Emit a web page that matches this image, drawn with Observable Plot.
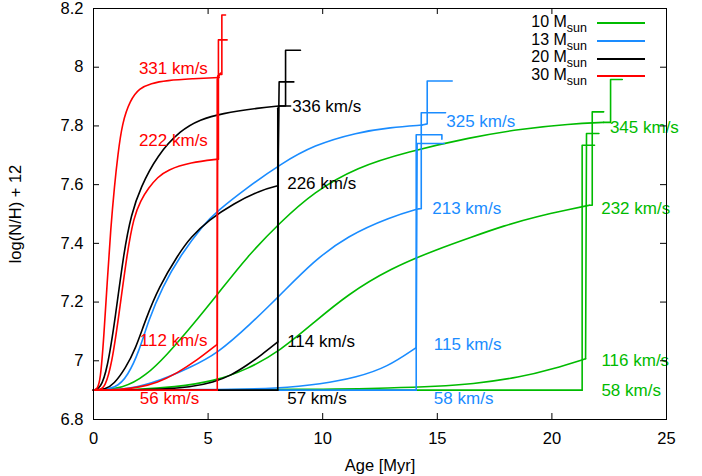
<!DOCTYPE html>
<html><head><meta charset="utf-8">
<script src="https://cdn.jsdelivr.net/npm/d3@7"></script>
<script src="https://cdn.jsdelivr.net/npm/@observablehq/plot@0.6"></script>
<style>
body{margin:0;background:#fff;}
#wrap{position:relative;width:702px;height:476px;font-family:"Liberation Sans",Arial,Helvetica,sans-serif;}
#wrap svg{display:block;}
</style>
</head><body>
<div id="wrap"></div>
<script>
// ---- data ----
const masses = ["10", "13", "20", "30"];
const massColors = ["#00bb00", "#1a8cff", "#000000", "#ff0000"];
const xTicks = [0, 5, 10, 15, 20, 25];
const yTicks = [6.8, 7.0, 7.2, 7.4, 7.6, 7.8, 8.0, 8.2];

// each track: rotation velocity, main-sequence curve, post-MS staircase, label anchor [t, logNH]
const tracks30 = [
  {v: 331, ms: [[0,6.9],[0.15,6.902],[0.3,6.93],[0.45,7.08],[0.6,7.27],[0.75,7.45],[0.92,7.6],[1.06,7.7],[1.25,7.81],[1.6,7.888],[2.0,7.928],[2.5,7.945],[3.2,7.955],[4.3,7.961],[5.45,7.965]],
   post: [[5.45,7.965],[5.5,7.975],[5.6,7.975],[5.6,8.178],[5.76,8.178]], label: [1.98, 7.995]},
  {v: 222, ms: [[0,6.9],[0.3,6.902],[0.5,6.91],[0.8,6.99],[1.1,7.15],[1.47,7.37],[1.76,7.49],[2.05,7.545],[2.41,7.59],[2.8,7.625],[3.21,7.65],[4.23,7.676],[5.45,7.687]],
   post: [[5.45,7.687],[5.45,8.093],[5.83,8.093]], label: [1.98, 7.75]},
  {v: 112, ms: [[0,6.9],[1.2,6.902],[2.0,6.91],[2.78,6.925],[3.65,6.958],[4.52,7.002],[5.4,7.056]],
   post: [[5.4,7.056],[5.42,7.97],[5.55,7.98]], label: [2.02, 7.068]},
  {v: 56, ms: [[0,6.9],[5.4,6.9]],
   post: [[5.4,6.9],[5.4,7.96],[5.48,7.965]], label: [2.02, 6.87]}
];
const tracks20 = [
  {v: 336, ms: [[0,6.9],[0.3,6.905],[0.6,6.97],[0.96,7.15],[1.32,7.37],[1.65,7.5],[2.05,7.59],[2.78,7.7],[3.8,7.786],[4.67,7.822],[5.54,7.842],[7.29,7.862],[8.1,7.868]],
   post: [[8.1,7.868],[8.38,7.868],[8.38,8.058],[9.03,8.058]], label: [8.67, 7.866]},
  {v: 226, ms: [[0,6.9],[0.5,6.902],[0.89,6.92],[1.4,6.975],[1.83,7.04],[2.27,7.14],[2.85,7.251],[3.72,7.365],[4.23,7.42],[5.03,7.48],[6.12,7.536],[7.29,7.581],[8.04,7.596]],
   post: [[8.04,7.596],[8.1,7.95],[8.74,7.95]], label: [8.45, 7.604]},
  {v: 114, ms: [[0,6.9],[3.0,6.902],[4.2,6.91],[5.25,6.927],[6.0,6.95],[6.7,6.985],[7.3,7.018],[8.04,7.064]],
   post: [[8.04,7.064],[8.07,7.868],[8.6,7.868]], label: [8.45, 7.065]},
  {v: 57, ms: [[0,6.9],[8.04,6.9]],
   post: [[8.04,6.9],[8.04,7.86]], label: [8.45, 6.87]}
];
const tracks13 = [
  {v: 325, ms: [[0,6.9],[1.0,6.905],[1.5,6.95],[1.98,7.03],[2.4,7.138],[3.0,7.251],[3.8,7.36],[4.81,7.465],[5.4,7.51],[6.7,7.59],[8.16,7.67],[9.61,7.735],[11.5,7.778],[12.96,7.795],[14.34,7.803]],
   post: [[14.34,7.803],[14.56,7.807],[14.56,7.953],[15.65,7.953]], label: [15.39, 7.816]},
  {v: 213, ms: [[0,6.9],[1.6,6.903],[2.92,6.933],[4.23,6.978],[5.4,7.024],[6.85,7.125],[8.16,7.225],[9.61,7.34],[11.07,7.425],[12.96,7.49],[14.2,7.518]],
   post: [[14.2,7.518],[14.3,7.518],[14.3,7.845],[15.36,7.845]], label: [14.78, 7.519]},
  {v: 115, ms: [[0,6.9],[5,6.901],[8.16,6.906],[9.9,6.92],[11.5,6.944],[12.81,6.978],[14.08,7.045]],
   post: [[14.08,7.045],[14.12,7.74],[15.3,7.74]], label: [14.85, 7.056]},
  {v: 58, ms: [[0,6.9],[14.08,6.9]],
   post: [[14.08,6.9],[14.08,7.77],[15.2,7.77],[15.2,7.755]], label: [14.85, 6.87]}
];
const tracks10 = [
  {v: 345, ms: [[0,6.9],[1.3,6.905],[2.3,6.95],[3.2,7.02],[4.2,7.11],[5.4,7.225],[6.7,7.355],[8.16,7.473],[9.61,7.575],[11.5,7.66],[13.69,7.712],[16.45,7.761],[18.63,7.79],[20.8,7.807],[22.26,7.812]],
   post: [[22.26,7.812],[22.56,7.812],[22.56,7.958],[23.07,7.958]], label: [22.53, 7.795]},
  {v: 232, ms: [[0,6.9],[2.0,6.902],[3.5,6.91],[5.25,6.93],[6.7,6.97],[8.16,7.035],[9.61,7.13],[11.07,7.225],[12.96,7.315],[15.0,7.38],[16.45,7.42],[17.9,7.46],[19.36,7.492],[20.8,7.516],[21.64,7.53]],
   post: [[21.64,7.53],[21.76,7.53],[21.76,7.848],[22.26,7.848]], label: [22.15, 7.519]},
  {v: 116, ms: [[0,6.9],[10,6.902],[13,6.907],[15,6.913],[16.45,6.92],[18.63,6.944],[20.08,6.973],[21.47,7.007]],
   post: [[21.47,7.007],[21.51,7.774],[22.05,7.774]], label: [22.16, 7.0]},
  {v: 58, ms: [[0,6.9],[21.32,6.9]],
   post: [[21.32,6.9],[21.32,7.734],[21.86,7.734]], label: [22.16, 6.9]}
];

// ---- build tables ----
const msRows = [], postRows = [], labelRows = [];
[[masses[0], tracks10], [masses[1], tracks13], [masses[2], tracks20], [masses[3], tracks30]].forEach(([mass, tracks]) => {
  tracks.forEach(tr => {
    const key = mass + "-" + tr.v;
    tr.ms.forEach(([t, y]) => msRows.push({mass, key, t, y}));
    tr.post.forEach(([t, y]) => postRows.push({mass, key, t, y}));
    labelRows.push({mass, t: tr.label[0], y: tr.label[1], text: tr.v + " km/s"});
  });
});

const W = 702, H = 476, ML = 93, MR = 36, MT = 8, MB = 57;
const innerW = W - ML - MR, innerH = H - MT - MB;
const font = '"Liberation Sans", Arial, Helvetica, sans-serif';

const chart = Plot.plot({
  width: W, height: H,
  marginLeft: ML, marginRight: MR, marginTop: MT, marginBottom: MB,
  x: {domain: [0, 25]},
  y: {domain: [6.8, 8.2]},
  color: {domain: masses, range: massColors},
  style: {fontFamily: font, fontSize: "16.5px", color: "#000", background: "#fff"},
  marks: [
    Plot.line(msRows, {x: "t", y: "y", z: "key", stroke: "mass", strokeWidth: 1.6, curve: "basis"}),
    Plot.line(postRows, {x: "t", y: "y", z: "key", stroke: "mass", strokeWidth: 1.6}),
    Plot.text(labelRows, {x: "t", y: "y", text: "text", fill: "mass", textAnchor: "start", fontSize: 17}),
    Plot.frame({stroke: "#000", strokeWidth: 1}),
    Plot.tickX(xTicks, {x: d => d, insetTop: innerH - 6, stroke: "#000"}),
    Plot.tickX(xTicks, {x: d => d, insetBottom: innerH - 6, stroke: "#000"}),
    Plot.tickY(yTicks, {y: d => d, insetRight: innerW - 6, stroke: "#000"}),
    Plot.tickY(yTicks, {y: d => d, insetLeft: innerW - 6, stroke: "#000"}),
    Plot.axisX({ticks: xTicks, tickSize: 0, tickPadding: 13, label: "Age [Myr]", labelAnchor: "center", labelOffset: 51, labelArrow: false}),
    Plot.axisY({ticks: yTicks, tickSize: 0, tickPadding: 10, tickFormat: d => String(+d.toFixed(1)), label: "log(N/H) + 12", labelAnchor: "center", labelOffset: 84, labelArrow: false})
  ]
});
const wrap = document.getElementById("wrap");
wrap.appendChild(chart);

// legend (inside plot, top right)
masses.forEach((m, i) => {
  const cy = 22 + 17.5 * i;
  const t = document.createElement("div");
  t.style.cssText = `position:absolute;right:${W - 587}px;top:${cy - 10}px;height:20px;line-height:20px;font-size:16px;white-space:nowrap;color:#000;`;
  t.innerHTML = `${m} M<span style="font-size:12.5px;position:relative;top:5px;">sun</span>`;
  wrap.appendChild(t);
  const l = document.createElement("div");
  const ly = 23.3 + 17.6 * i;
  l.style.cssText = `position:absolute;left:597px;width:48px;top:${ly - 1}px;height:2px;background:${massColors[i]};`;
  wrap.appendChild(l);
});
</script>
</body></html>
